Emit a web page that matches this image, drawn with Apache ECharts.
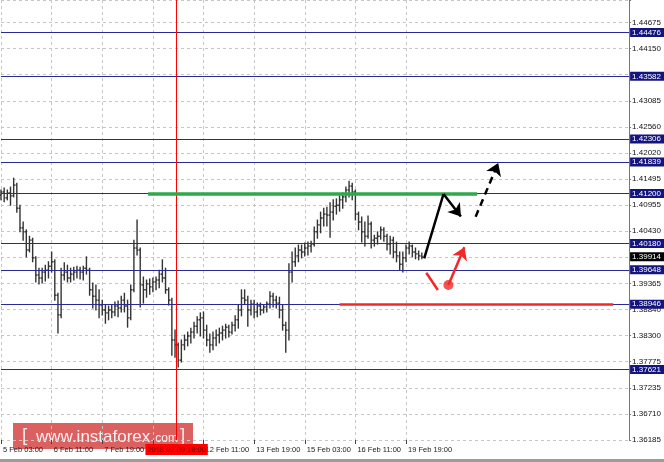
<!DOCTYPE html>
<html><head><meta charset="utf-8">
<script src="https://cdn.jsdelivr.net/npm/echarts@6/dist/echarts.min.js"></script>
<style>html,body{margin:0;padding:0;background:#fff}#c{width:664px;height:462px}</style>
</head><body><div id="c"></div>
<script>
// ---- data (H2 bars, hours counted from 5 Feb 03:00, weekend removed) ----
const barHours = [0,2,4,6,8,10,12,14,16,18,20,22,24,26,28,30,32,34,36,38,40,42,44,46,48,50,52,54,56,58,60,62,64,66,68,70,72,74,76,78,80,82,84,86,88,90,92,94,96,98,100,102,104,106,108,110,112,114,116,118,120,122,124,126,128,130,132,134,136,138,140,142,144,146,148,150,152,154,156,158,160,162,164,166,168,170,172,174,176,178,180,182,184,186,188,190,192,194,196,198,200,202,204,206,208,210,212,214,216,218,220,222,224,226,228,230,232,234,236,238,240,242,244,246,248,250,252,254,256,258,260,262,264,266];
const barOpen = [1.4117,1.4123,1.4111,1.4121,1.4115,1.4137,1.4090,1.4050,1.4042,1.4005,1.4025,1.3989,1.3954,1.3948,1.3960,1.3964,1.3972,1.3981,1.3913,1.3873,1.3954,1.3960,1.3948,1.3956,1.3960,1.3964,1.3960,1.3968,1.3964,1.3924,1.3911,1.3903,1.3893,1.3883,1.3877,1.3883,1.3879,1.3891,1.3887,1.3903,1.3891,1.3867,1.3924,1.4009,1.4005,1.3934,1.3924,1.3936,1.3930,1.3940,1.3944,1.3956,1.3948,1.3924,1.3903,1.3822,1.3812,1.3781,1.3812,1.3822,1.3830,1.3838,1.3850,1.3863,1.3867,1.3842,1.3822,1.3812,1.3826,1.3832,1.3836,1.3842,1.3848,1.3838,1.3852,1.3863,1.3883,1.3907,1.3903,1.3883,1.3895,1.3879,1.3891,1.3883,1.3889,1.3895,1.3911,1.3903,1.3897,1.3883,1.3852,1.3842,1.3960,1.3981,1.3993,1.4005,1.4001,1.4009,1.4013,1.4017,1.4042,1.4056,1.4070,1.4078,1.4076,1.4082,1.4094,1.4096,1.4107,1.4113,1.4127,1.4135,1.4123,1.4078,1.4062,1.4042,1.4033,1.4058,1.4025,1.4029,1.4033,1.4046,1.4033,1.4017,1.4025,1.4001,1.3993,1.3976,1.3989,1.4009,1.4013,1.4001,1.3997,1.3993];
const barHigh = [1.4127,1.4131,1.4127,1.4133,1.4151,1.4141,1.4096,1.4062,1.4046,1.4033,1.4029,1.3991,1.3968,1.3968,1.3974,1.3981,1.4001,1.3985,1.3917,1.3968,1.3979,1.3974,1.3968,1.3970,1.3972,1.3970,1.3972,1.3991,1.3968,1.3938,1.3934,1.3924,1.3903,1.3893,1.3891,1.3893,1.3899,1.3901,1.3911,1.3917,1.3903,1.3934,1.4025,1.4066,1.4009,1.3950,1.3944,1.3946,1.3948,1.3950,1.3964,1.3985,1.3968,1.3928,1.3907,1.3842,1.3816,1.3822,1.3832,1.3838,1.3846,1.3858,1.3869,1.3877,1.3879,1.3852,1.3834,1.3838,1.3842,1.3846,1.3850,1.3854,1.3852,1.3858,1.3871,1.3893,1.3924,1.3924,1.3911,1.3903,1.3903,1.3897,1.3897,1.3893,1.3899,1.3920,1.3917,1.3911,1.3909,1.3893,1.3858,1.3977,1.4001,1.4009,1.4015,1.4015,1.4019,1.4021,1.4023,1.4052,1.4066,1.4082,1.4090,1.4092,1.4101,1.4107,1.4109,1.4115,1.4121,1.4133,1.4145,1.4141,1.4127,1.4082,1.4072,1.4062,1.4074,1.4062,1.4035,1.4042,1.4052,1.4050,1.4037,1.4033,1.4031,1.4021,1.4001,1.4001,1.4015,1.4021,1.4015,1.4009,1.4003,1.3999];
const barLow = [1.4107,1.4103,1.4107,1.4096,1.4113,1.4082,1.4042,1.4025,1.3991,1.4001,1.3981,1.3940,1.3936,1.3938,1.3942,1.3948,1.3960,1.3903,1.3836,1.3867,1.3944,1.3940,1.3940,1.3944,1.3948,1.3946,1.3944,1.3956,1.3913,1.3887,1.3883,1.3867,1.3873,1.3856,1.3863,1.3867,1.3871,1.3869,1.3879,1.3879,1.3848,1.3863,1.3920,1.3995,1.3889,1.3897,1.3909,1.3915,1.3920,1.3924,1.3928,1.3940,1.3917,1.3893,1.3791,1.3787,1.3767,1.3777,1.3802,1.3810,1.3816,1.3826,1.3836,1.3830,1.3826,1.3810,1.3797,1.3802,1.3810,1.3816,1.3822,1.3826,1.3828,1.3834,1.3840,1.3846,1.3871,1.3895,1.3850,1.3873,1.3867,1.3869,1.3873,1.3877,1.3879,1.3887,1.3889,1.3887,1.3867,1.3842,1.3797,1.3822,1.3940,1.3972,1.3981,1.3989,1.3993,1.3995,1.4001,1.4013,1.4029,1.4040,1.4054,1.4054,1.4031,1.4066,1.4078,1.4084,1.4090,1.4103,1.4113,1.4107,1.4066,1.4046,1.4021,1.4013,1.4029,1.4009,1.4013,1.4017,1.4027,1.4023,1.4005,1.3997,1.3989,1.3981,1.3964,1.3960,1.3981,1.3997,1.3991,1.3987,1.3985,1.3987];
const barClose = [1.4123,1.4111,1.4121,1.4115,1.4137,1.4090,1.4050,1.4042,1.4005,1.4025,1.3989,1.3954,1.3948,1.3960,1.3964,1.3972,1.3981,1.3913,1.3873,1.3954,1.3960,1.3948,1.3956,1.3960,1.3964,1.3960,1.3968,1.3964,1.3924,1.3911,1.3903,1.3893,1.3883,1.3877,1.3883,1.3879,1.3891,1.3887,1.3903,1.3891,1.3867,1.3924,1.4009,1.4005,1.3934,1.3924,1.3936,1.3930,1.3940,1.3944,1.3956,1.3948,1.3924,1.3903,1.3822,1.3812,1.3781,1.3812,1.3822,1.3830,1.3838,1.3850,1.3863,1.3867,1.3842,1.3822,1.3812,1.3826,1.3832,1.3836,1.3842,1.3848,1.3838,1.3852,1.3863,1.3883,1.3907,1.3903,1.3883,1.3895,1.3879,1.3891,1.3883,1.3889,1.3895,1.3911,1.3903,1.3897,1.3883,1.3852,1.3842,1.3960,1.3981,1.3993,1.4005,1.4001,1.4009,1.4013,1.4017,1.4042,1.4056,1.4070,1.4078,1.4076,1.4082,1.4094,1.4096,1.4107,1.4113,1.4127,1.4135,1.4123,1.4078,1.4062,1.4042,1.4033,1.4058,1.4025,1.4029,1.4033,1.4046,1.4033,1.4017,1.4025,1.4001,1.3993,1.3976,1.3989,1.4009,1.4013,1.4001,1.3997,1.3993,1.3991];

const timeTickHours = [0,32,64,96,128,160,192,224,256];
const timeTickLabels = ['5 Feb 03:00','6 Feb 11:00','7 Feb 19:00','9 Feb 03:00','12 Feb 11:00','13 Feb 19:00','15 Feb 03:00','16 Feb 11:00','19 Feb 19:00'];
const priceTickLabels = ['1.36185','1.36710','1.37235','1.37775','1.38300','1.38840','1.39365','1.39905','1.40430','1.40955','1.41495','1.42020','1.42560','1.43085','1.43625','1.44150','1.44675'];
const levelPrices = [1.44476,1.43582,1.42306,1.41839,1.41200,1.40180,1.39648,1.38946,1.37621];
const bidPrice = 1.39914;
const markerHour = 111;
const markerLabel = '2018.02.09 18:00';
const greenLine = [[93,1.41200],[301,1.41200]];
const redLine = [[214,1.38946],[387,1.38946]];
const blackUp = [[267.5,1.39881],[279.7,1.41189]];
const blackDown = [[279.7,1.41189],[290.7,1.40731]];
const blackDashed = [[300.0,1.40727],[314.3,1.41819]];
const redStroke = [[268.8,1.39588],[276.1,1.39236]];
const redDot = [282.8,1.39338];
const redArrow = [[282.8,1.39338],[292.9,1.40105]];

// ---- chart ----
const FONT = 'Liberation Sans, Arial, sans-serif';
const chart = echarts.init(document.getElementById('c'), null, {renderer:'canvas', width:664, height:462});
const ohlc = barHours.map((h,i)=>[h, barOpen[i], barHigh[i], barLow[i], barClose[i]]);
const gridLine = {show:true, lineStyle:{color:'#c6c6c6', type:[3,3], width:1}};

function levelLine(v, bg, lineColor){
  return {yAxis:v, lineStyle:{color:lineColor, width:1, type:'solid'},
    label:{show:true, position:'end', distance:1, formatter:()=>v.toFixed(5), backgroundColor:bg, color:'#fff',
      fontSize:8, fontFamily:FONT, padding:[1,3,0,2]}};
}

const option = {
  animation:false,
  backgroundColor:'#ffffff',
  grid:{left:1, right:33, top:0, height:440},
  xAxis:{type:'value', min:0, max:397, interval:16,
    axisLine:{show:false},
    axisTick:{show:true, customValues:timeTickHours, length:4, lineStyle:{color:'#444'}},
    axisLabel:{customValues:timeTickHours, formatter:v=>{const i=timeTickHours.indexOf(v);return i<0?'':timeTickLabels[i];},
      align:'left', margin:6, fontSize:7.5, color:'#222', fontFamily:FONT, padding:[0,0,0,2]},
    splitLine:gridLine},
  yAxis:[
    {type:'value', min:1.36185, max:1.45135, show:false},
    {type:'value', min:0, max:16.864, interval:1, position:'right',
      axisLine:{show:true, lineStyle:{color:'#777'}},
      axisTick:{show:true, length:2, lineStyle:{color:'#777'}},
      axisLabel:{formatter:v=>Number.isInteger(v)?priceTickLabels[v]:'', fontSize:8, color:'#111', margin:3, fontFamily:FONT},
      splitLine:gridLine}
  ],
  series:[
    {type:'custom', xAxisIndex:0, yAxisIndex:0, data:ohlc, encode:{x:0, y:[1,2,3,4]}, z:3,
      renderItem:function(params, api){
        const x = api.value(0);
        const pO = api.coord([x, api.value(1)]);
        const pH = api.coord([x, api.value(2)]);
        const pL = api.coord([x, api.value(3)]);
        const pC = api.coord([x, api.value(4)]);
        const st = {stroke:'#333333', lineWidth:1.4};
        return {type:'group', children:[
          {type:'line', shape:{x1:pH[0], y1:pH[1]-0.5, x2:pL[0], y2:pL[1]+0.5}, style:st},
          {type:'line', shape:{x1:pO[0]-1.4, y1:pO[1], x2:pO[0], y2:pO[1]}, style:st},
          {type:'line', shape:{x1:pC[0], y1:pC[1], x2:pC[0]+1.4, y2:pC[1]}, style:st}
        ]};
      }},
    {type:'line', xAxisIndex:0, yAxisIndex:0, data:[], z:2,
      markLine:{silent:true, symbol:['none','none'], animation:false, precision:5,
        data: levelPrices.map(v=>levelLine(v,'#14147e','#2a2a96')).concat([
          {yAxis:bidPrice, lineStyle:{color:'rgba(0,0,0,0)', width:1}, label:{show:true, position:'end', distance:1, formatter:()=>bidPrice.toFixed(5),
            backgroundColor:'#000', color:'#fff', fontSize:8, fontFamily:FONT, padding:[1,3,0,2]}}
        ])}},
    {type:'line', xAxisIndex:0, yAxisIndex:0, data:[], z:4,
      markLine:{silent:true, symbol:['none','none'], animation:false, precision:5,
        data:[{xAxis:markerHour, lineStyle:{color:'#ff0000', width:1, type:'solid'},
          label:{show:true, position:'start', distance:4, formatter:()=>markerLabel, backgroundColor:'#ff0000',
            color:'#6a0000', fontSize:7.5, fontFamily:FONT, padding:[2,2,1,2]}}]}},
    {type:'lines', coordinateSystem:'cartesian2d', xAxisIndex:0, yAxisIndex:0, z:5, symbol:['none','none'],
      lineStyle:{color:'#2fa84a', width:3.5, opacity:1}, data:[{coords:greenLine}]},
    {type:'lines', coordinateSystem:'cartesian2d', xAxisIndex:0, yAxisIndex:0, z:5, symbol:['none','none'],
      lineStyle:{color:'#f02828', width:2.5, opacity:1}, data:[{coords:redLine},{coords:redStroke}]},
    {type:'lines', coordinateSystem:'cartesian2d', xAxisIndex:0, yAxisIndex:0, z:6, symbol:['none','none'],
      lineStyle:{color:'#000', width:2.5, opacity:1}, data:[{coords:blackUp}]},
    {type:'lines', coordinateSystem:'cartesian2d', xAxisIndex:0, yAxisIndex:0, z:6, symbol:['none','arrow'], symbolSize:12,
      lineStyle:{color:'#000', width:2.5, opacity:1}, data:[{coords:blackDown}]},
    {type:'lines', coordinateSystem:'cartesian2d', xAxisIndex:0, yAxisIndex:0, z:6, symbol:['none','arrow'], symbolSize:12,
      lineStyle:{color:'#000', width:2.5, opacity:1, type:[7,5]}, data:[{coords:blackDashed}]},
    {type:'lines', coordinateSystem:'cartesian2d', xAxisIndex:0, yAxisIndex:0, z:6, symbol:['none','arrow'], symbolSize:12,
      lineStyle:{color:'#f02828', width:2.5, opacity:1}, data:[{coords:redArrow}]},
    {type:'scatter', xAxisIndex:0, yAxisIndex:0, z:7, symbol:'circle', symbolSize:10, itemStyle:{color:'#f02828'}, data:[redDot]}
  ],
  graphic:[
    {type:'group', left:13, top:423, z:100, children:[
      {type:'rect', shape:{x:0, y:0, width:180, height:26}, style:{fill:'rgba(205,35,35,0.72)'}},
      {type:'text', x:9, y:13, style:{text:'[', fill:'rgba(255,255,255,0.85)', fontSize:19, fontFamily:FONT, verticalAlign:'middle'}},
      {type:'text', x:23, y:14, style:{text:'www.instaforex', fill:'rgba(255,255,255,0.9)', fontSize:17, fontFamily:FONT, verticalAlign:'middle'}},
      {type:'text', x:139, y:16, style:{text:'.com', fill:'rgba(255,255,255,0.9)', fontSize:12, fontFamily:FONT, verticalAlign:'middle'}},
      {type:'text', x:167, y:13, style:{text:']', fill:'rgba(255,255,255,0.85)', fontSize:19, fontFamily:FONT, verticalAlign:'middle'}}
    ]},
    {type:'rect', left:0, top:459, z:100, shape:{width:664, height:3}, style:{fill:'#9c9c9c'}}
  ]
};
chart.setOption(option);
</script>
</body></html>
